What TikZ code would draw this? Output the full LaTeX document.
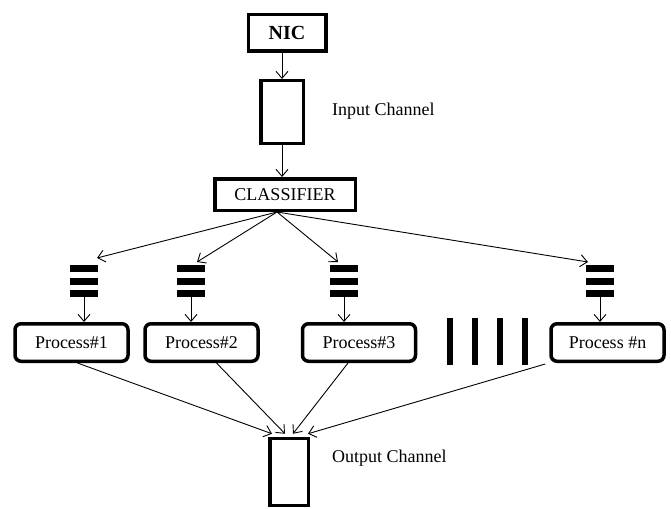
\documentclass[tikz,border=0pt]{standalone}
\usepackage{fontspec}
\setmainfont{Liberation Serif}
\usetikzlibrary{arrows.meta}
\begin{document}
\begin{tikzpicture}[x=1pt,y=-1pt,
  thickbox/.style={draw, line width=3.5pt, inner sep=0pt, font=\fontsize{18}{20}\selectfont},
  procbox/.style={thickbox, rounded corners=6pt, minimum width=113pt, minimum height=37.5pt},
  conn/.style={line width=0.9pt, -{Straight Barb[length=7pt,width=12pt]}},
  qbox/.style={inner sep=0pt, outer sep=0pt, minimum width=28pt, minimum height=32pt},
  dotbar/.style={fill, inner sep=0pt, minimum width=6pt, minimum height=47pt},
  lbl/.style={font=\fontsize{18}{20}\selectfont, anchor=west, inner sep=0pt}]
\useasboundingbox (0,0) rectangle (671,508);

\node[thickbox, minimum width=77.5pt, minimum height=36.5pt, font=\fontsize{20}{22}\selectfont\bfseries] (nic) at (287,33) {NIC};
\node[thickbox, minimum width=42.5pt, minimum height=62.5pt] (inp) at (282,112) {};
\node[lbl] (inplbl) at (332,111) {Input Channel};
\node[thickbox, minimum width=140.5pt, minimum height=31.5pt] (cls) at (285,194.5) {CLASSIFIER};

\node[qbox] (q1) at (84,281) {};
\node[qbox] (q2) at (191,281) {};
\node[qbox] (q3) at (344,281) {};
\node[qbox] (qn) at (600,281) {};
\foreach \q in {q1,q2,q3,qn}{
  \fill (\q.north west) rectangle ([yshift=-7pt]\q.north east);
  \fill ([yshift=3.5pt]\q.west) rectangle ([yshift=-3.5pt]\q.east);
  \fill ([yshift=7pt]\q.south west) rectangle (\q.south east);
}

\node[procbox] (p1) at (71.5,342.5) {Process\#1};
\node[procbox] (p2) at (201.5,342.5) {Process\#2};
\node[procbox] (p3) at (359,342.5) {Process\#3};
\node[procbox] (pn) at (607.5,342.5) {Process \#n};

\node[dotbar] (d1) at (450,341.5) {};
\node[dotbar] (d2) at (475,341.5) {};
\node[dotbar] (d3) at (500,341.5) {};
\node[dotbar] (d4) at (525,341.5) {};

\node[thickbox, minimum width=38.5pt, minimum height=67pt] (out) at (289,472) {};
\node[lbl] (outlbl) at (332,458) {Output Channel};

\draw[conn] (inp.north |- nic.south) -- (inp.north);
\draw[conn] (inp.south) -- (inp.south |- cls.north);

\coordinate (src) at ([xshift=-8pt]cls.south);
\draw[conn] (src) -- ([xshift=13pt,yshift=7pt]q1.north);
\draw[conn] (src) -- ([xshift=6pt,yshift=3pt]q2.north);
\draw[conn] (src) -- ([xshift=-6pt,yshift=3pt]q3.north);
\draw[conn] (src) -- ([xshift=-12pt,yshift=3pt]qn.north);

\foreach \q/\p in {q1/p1,q2/p2,q3/p3,qn/pn}{
  \draw[conn] (\q.south) -- (\q.south |- \p.north);
}

\draw[conn] ([xshift=6pt]p1.south) -- ([xshift=-17pt,yshift=3pt]out.north);
\draw[conn] ([xshift=15pt]p2.south) -- ([xshift=-4pt,yshift=3pt]out.north);
\draw[conn] ([xshift=-11pt]p3.south) -- ([xshift=4pt,yshift=3pt]out.north);
\draw[conn] ([xshift=-4pt,yshift=-1pt]pn.south west) -- ([xshift=19pt,yshift=3pt]out.north);
\end{tikzpicture}
\end{document}
